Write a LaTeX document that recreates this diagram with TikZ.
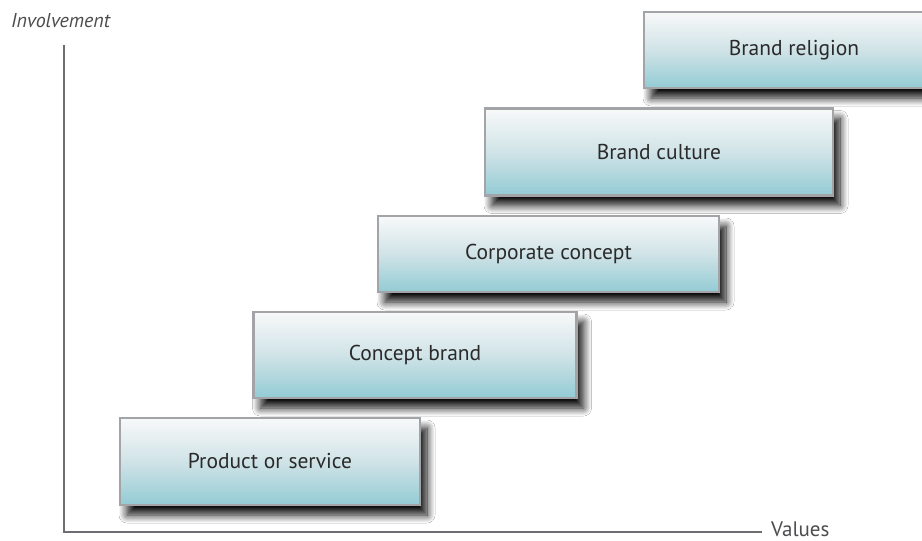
\documentclass[tikz,border=0pt]{standalone}
\usepackage{fontspec}
\setmainfont{PT Sans}
\usetikzlibrary{shadows.blur}
\definecolor{axisgray}{HTML}{6E6E72}
\definecolor{boxborder}{HTML}{A3A4A7}
\definecolor{boxtop}{HTML}{F8F9F9}
\definecolor{boxmid}{HTML}{D0E3E7}
\definecolor{boxbot}{HTML}{93CBD4}
\definecolor{txt}{HTML}{2A2A2A}
\tikzset{
  stagebox/.style={draw=boxborder, line width=2.6pt, rectangle,
    top color=boxtop, bottom color=boxbot, middle color=boxmid,
    text=txt, font=\fontsize{21.5}{24}\selectfont,
    blur shadow={shadow xshift=7pt, shadow yshift=-10pt, shadow blur radius=8pt,
      shadow blur steps=14, shadow opacity=95},
    inner sep=0pt},
  axisline/.style={draw=axisgray, line width=2.6pt},
  axislabel/.style={text=axisgray!70!black, inner sep=0pt}
}
\begin{document}
\begin{tikzpicture}[x=1pt,y=-1pt]
\clip (0,0) rectangle (922,541);
\useasboundingbox (0,0) rectangle (922,541);
\fill[white] (0,0) rectangle (922,541);
% axes
\coordinate (top) at (64,45);
\coordinate (origin) at (64,532);
\coordinate (xend) at (762,532);
\draw[axisline] (top) -- (origin) -- (xend);
\node[axislabel, anchor=base west, font=\itshape\fontsize{20}{22}\selectfont] (inv) at (11,27) {Involvement};
\node[axislabel, anchor=west, font=\fontsize{21}{24}\selectfont] (val) at (771,529) {Values};
% boxes
\node[stagebox, minimum width=300pt, minimum height=87pt] (b1) at (270,461.5) {Product or service};
\node[stagebox, minimum width=323pt, minimum height=86pt] (b2) at (415,355) {Concept brand};
\node[stagebox, minimum width=341pt, minimum height=76pt] (b3) at (548.5,254) {Corporate concept};
\node[stagebox, minimum width=348pt, minimum height=87pt] (b4) at (659,152) {Brand culture};
\node[stagebox, minimum width=300pt, minimum height=76pt] (b5) at (794,50) {Brand religion};
\end{tikzpicture}
\end{document}
